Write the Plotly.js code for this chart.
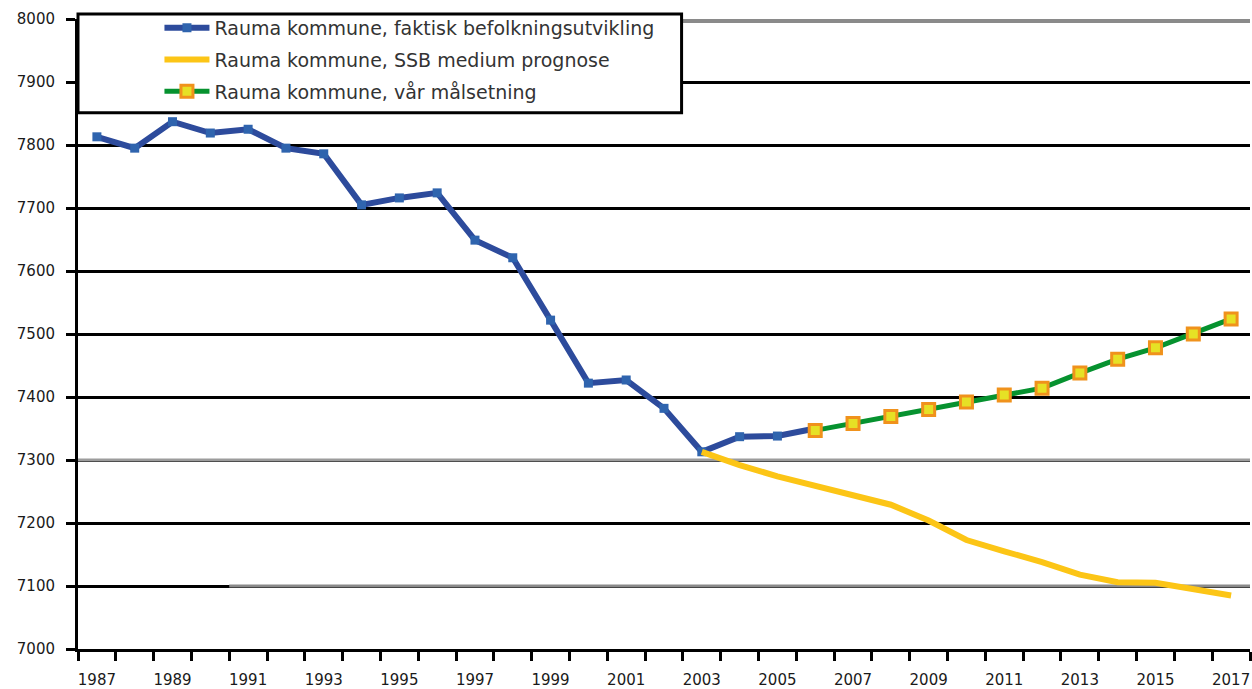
<!DOCTYPE html>
<html>
<head>
<meta charset="utf-8">
<script src="https://cdn.plot.ly/plotly-3.0.1.min.js"></script>
<style>html,body{margin:0;padding:0;background:#fff;}#chart{width:1252px;height:689px;}</style>
</head>
<body>
<div id="chart"></div>
<script>
// ---- data ----
const years = [1987,1988,1989,1990,1991,1992,1993,1994,1995,1996,1997,1998,1999,2000,2001,2002,2003,2004,2005,2006,2007,2008,2009,2010,2011,2012,2013,2014,2015,2016,2017];

const actualYears = [1987,1988,1989,1990,1991,1992,1993,1994,1995,1996,1997,1998,1999,2000,2001,2002,2003,2004,2005,2006];
const actualPop   = [7813,7795,7837,7819,7825,7795,7786,7705,7716,7724,7649,7621,7522,7422,7427,7382,7313,7337,7338,7350];

const ssbYears = [2003,2004,2005,2006,2007,2008,2009,2010,2011,2012,2013,2014,2015,2016,2017];
const ssbPop   = [7313,7292,7274,7259,7244,7229,7204,7173,7155,7138,7118,7106,7105,7094,7085];

const goalYears = [2006,2007,2008,2009,2010,2011,2012,2013,2014,2015,2016,2017];
const goalPop   = [7347,7358,7369,7380,7392,7403,7414,7438,7460,7478,7500,7524];

const seriesNames = [
  'Rauma kommune, faktisk befolkningsutvikling',
  'Rauma kommune, SSB medium prognose',
  'Rauma kommune, vår målsetning'
];

const yTicks = [7000,7100,7200,7300,7400,7500,7600,7700,7800,7900,8000];
const xTickYears = [1987,1989,1991,1993,1995,1997,1999,2001,2003,2005,2007,2009,2011,2013,2015,2017];
const xTickLabels = xTickYears.map(String);

// ---- traces ----
const traces = [
  {
    x: actualYears, y: actualPop, name: seriesNames[0], legendgroup: 'a',
    type: 'scatter', mode: 'lines+markers',
    line: {color: '#2d4b9c', width: 6},
    marker: {symbol: 'square', size: 9, color: '#2f64ae'}
  },
  {
    x: ssbYears, y: ssbPop, name: seriesNames[1], legendgroup: 'b',
    type: 'scatter', mode: 'lines',
    line: {color: '#fcc516', width: 6}
  },
  {
    x: goalYears, y: goalPop, name: seriesNames[2], legendgroup: 'c',
    type: 'scatter', mode: 'lines+markers',
    line: {color: '#06922f', width: 5},
    marker: {symbol: 'square', size: 12, color: '#e6e125', line: {color: '#f0921c', width: 3}}
  }
];

const layout = {
  width: 1252, height: 689,
  margin: {l: 78, r: 2, t: 19, b: 40},
  paper_bgcolor: '#ffffff', plot_bgcolor: '#ffffff',
  font: {family: 'DejaVu Sans, Arial, sans-serif', color: '#1a1a1a'},
  showlegend: true,
  legend: {
    x: 0.0695, y: 1.016, xref: 'paper', yref: 'paper', xanchor: 'left', yanchor: 'top',
    bgcolor: 'rgba(0,0,0,0)', borderwidth: 0,
    font: {size: 19, color: '#333', family: 'DejaVu Sans, Arial, sans-serif'},
    itemwidth: 45, tracegroupgap: 4, traceorder: 'grouped'
  },
  xaxis: {
    range: [1986.5, 2017.5],
    tickmode: 'array', tickvals: xTickYears, ticktext: xTickLabels,
    ticks: '', ticklabelstandoff: 15,
    minor: {tick0: 1986.5, dtick: 1, ticks: 'outside', ticklen: 9, tickwidth: 3, tickcolor: '#000', showgrid: false},
    showline: true, linecolor: '#000', linewidth: 3,
    showgrid: false, zeroline: false,
    tickfont: {size: 15, color: '#1a1a1a'}
  },
  yaxis: {
    range: [7000, 8000],
    tickmode: 'array', tickvals: yTicks,
    ticks: 'outside', ticklen: 9, tickwidth: 3, tickcolor: '#000',
    ticklabelstandoff: 8,
    showline: true, linecolor: '#000', linewidth: 3,
    showgrid: true, gridcolor: '#000', gridwidth: 3,
    zeroline: false,
    tickfont: {size: 15, color: '#1a1a1a'}
  },
  shapes: [
    // gray-looking gridline segments (as in the scanned original)
    {type: 'line', xref: 'x', yref: 'y', x0: 1986.5, x1: 2017.5, y0: yTicks[3], y1: yTicks[3], line: {color: '#9c9c9c', width: 3}, layer: 'between'},
    {type: 'line', xref: 'x', yref: 'y', x0: 1990.5, x1: 2017.5, y0: yTicks[1], y1: yTicks[1], line: {color: '#8a8a8a', width: 3}, layer: 'between'},
    {type: 'line', xref: 'paper', yref: 'paper', x0: 0.5, x1: 1.0, y0: 0.997, y1: 0.997, line: {color: '#8a8a8a', width: 4}, layer: 'above'},
    // legend box
    {type: 'rect', xref: 'paper', yref: 'paper', x0: 0.0, x1: 0.515, y0: 0.851, y1: 1.008,
     fillcolor: '#ffffff', line: {color: '#000', width: 3}, layer: 'above'}
  ]
};

Plotly.newPlot('chart', traces, layout, {displayModeBar: false, staticPlot: true});
</script>
</body>
</html>
